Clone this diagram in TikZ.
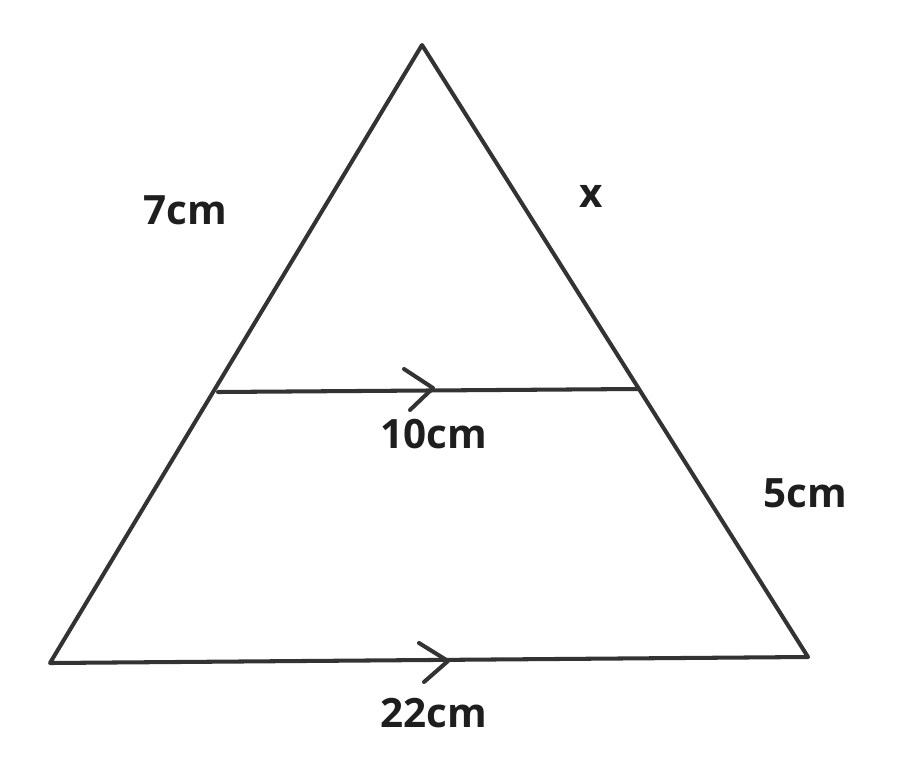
\documentclass[tikz,border=0pt]{standalone}
\usepackage{fontspec}
\setmainfont{Open Sans}
\usepackage{color}

\definecolor{penline}{RGB}{51,51,51}
\definecolor{pentext}{RGB}{30,30,30}

\begin{document}
\begin{tikzpicture}[%
      x=0.02cm, y=-0.02cm,
      side/.style={color=penline, line width=2.3pt, line cap=round, line join=round},
      lbl/.style={color=pentext, font=\fontsize{23}{28}\selectfont\bfseries},
      ]
      \useasboundingbox (0,0) rectangle (911,777);

      \coordinate (apex) at (422,45);
      \coordinate (bl) at (50,663);
      \coordinate (br) at (808,657);
      \coordinate (ml) at (218,392);
      \coordinate (mr) at (638,389);

      \draw [side] (bl) -- (apex) -- (br) -- cycle;
      \draw [side] (ml) -- (mr);

      % parallel marks
      \coordinate (tipa) at (433,388);
      \draw [side] (404,369) -- (tipa) -- (410,410);
      \coordinate (tipb) at (448,661);
      \draw [side] (419,643) -- (tipb) -- (424,682);

      \node [lbl] (seven) at (185,210) {7cm};
      \node [lbl] (ex) at (591,196) {x};
      \node [lbl] (ten) at (434,434) {10cm};
      \node [lbl] (five) at (805,493) {5cm};
      \node [lbl] (twtwo) at (434,713) {22cm};
      \end{tikzpicture}
\end{document}
